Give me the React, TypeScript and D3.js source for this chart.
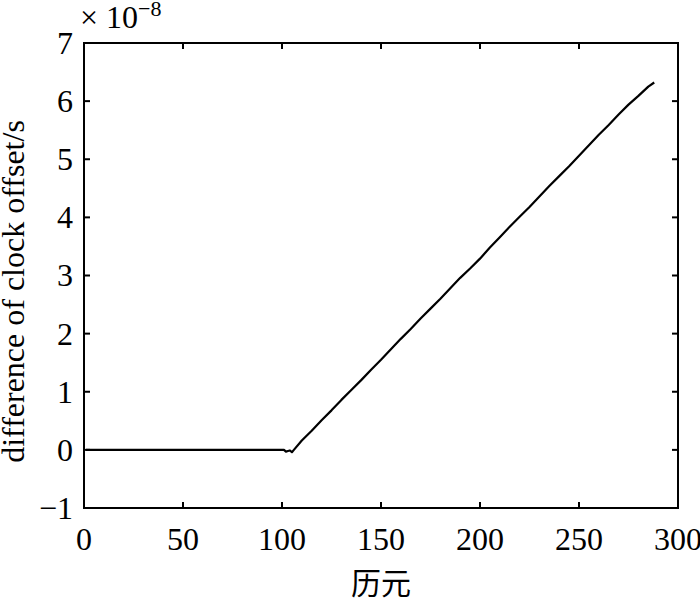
import React from "react";
import * as d3 from "d3";

const xTicks = [0, 50, 100, 150, 200, 250, 300];
const yTicks = [-1, 0, 1, 2, 3, 4, 5, 6, 7];
const xLabel = "历元";
const yLabel = "difference of clock offset/s";

const epochs = [
  1, 101, 102, 103, 104, 105, 106, 110, 115, 120, 125, 130, 135, 140, 145, 150, 155, 160,
  165, 170, 175, 180, 185, 190, 195, 200, 205, 210, 215, 220, 225, 230, 235, 240, 245,
  250, 255, 260, 265, 270, 275, 280, 285, 288,
];
const offsets = [
  0, 0, -0.03, -0.02, -0.01, -0.04, 0.0, 0.16, 0.33, 0.51, 0.68, 0.86, 1.03, 1.2, 1.38,
  1.55, 1.73, 1.91, 2.08, 2.26, 2.43, 2.6, 2.78, 2.96, 3.12, 3.29, 3.48, 3.66, 3.84, 4.01,
  4.18, 4.36, 4.54, 4.71, 4.88, 5.06, 5.24, 5.42, 5.59, 5.77, 5.94, 6.09, 6.25, 6.32,
];

const W = 700;
const H = 600;
const L = 84;
const R = 678;
const T = 43;
const B = 508;
const FONT = "'Liberation Serif', serif";

export default function App() {
  const x = d3.scaleLinear().domain([0, 300]).range([L, R]);
  const y = d3.scaleLinear().domain([-1, 7]).range([B, T]);
  const pts: [number, number][] = epochs.map((e, i) => [e, offsets[i]]);
  const line = d3
    .line<[number, number]>()
    .x((d) => x(d[0]))
    .y((d) => y(d[1]));
  const tl = 6;
  const ts = { fontFamily: FONT };
  return (
    <svg
      width={W}
      height={H}
      style={{ position: "absolute", left: 0, top: 0, background: "#fff" }}
    >
      <rect x={0} y={0} width={W} height={H} fill="#fff" />
      <path d={line(pts) || ""} fill="none" stroke="#000" strokeWidth={2.2} strokeLinejoin="round" />
      <rect x={L} y={T} width={R - L} height={B - T} fill="none" stroke="#000" strokeWidth={2} />
      {xTicks.map((t) => (
        <g key={"x" + t}>
          <line x1={x(t)} x2={x(t)} y1={B} y2={B - tl} stroke="#000" strokeWidth={2} />
          <line x1={x(t)} x2={x(t)} y1={T} y2={T + tl} stroke="#000" strokeWidth={2} />
          <text x={x(t)} y={550} fontSize={32} textAnchor="middle" fill="#000" style={ts}>
            {t}
          </text>
        </g>
      ))}
      {yTicks.map((t) => (
        <g key={"y" + t}>
          <line x1={L} x2={L + tl} y1={y(t)} y2={y(t)} stroke="#000" strokeWidth={2} />
          <line x1={R} x2={R - tl} y1={y(t)} y2={y(t)} stroke="#000" strokeWidth={2} />
          <text x={73} y={y(t)} dy="0.34em" fontSize={32} textAnchor="end" fill="#000" style={ts}>
            {t < 0 ? "\u2212" + Math.abs(t) : t}
          </text>
        </g>
      ))}
      <text x={80} y={28} fontSize={32} fill="#000" style={ts}>
        {"\u00d7 10"}
        <tspan fontSize={22} dy={-12}>
          {"\u22128"}
        </tspan>
      </text>
      <text
        transform={`translate(24, ${(T + B) / 2 + 16}) rotate(-90)`}
        fontSize={32}
        textAnchor="middle"
        fill="#000"
        style={ts}
      >
        {yLabel}
      </text>
      <text
        x={(L + R) / 2}
        y={594}
        fontSize={30}
        textAnchor="middle"
        fill="#000"
        style={{ fontFamily: "'Noto Sans CJK SC', serif" }}
      >
        {xLabel}
      </text>
    </svg>
  );
}
